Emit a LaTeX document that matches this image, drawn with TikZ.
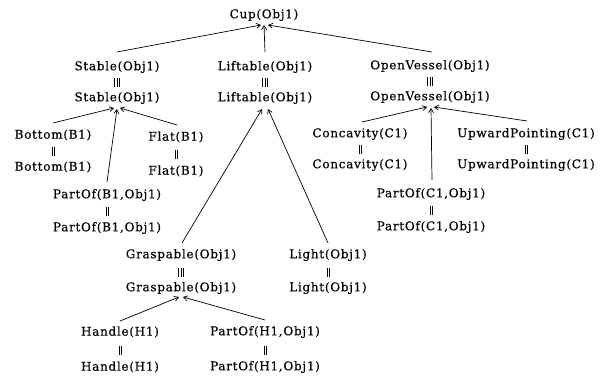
\documentclass[tikz,border=0pt]{standalone}
\usepackage{fontspec}
\setmainfont{DejaVu Serif}[LetterSpace=6,FakeBold=0.4]
\usetikzlibrary{arrows.meta}
\newcommand\eqtwo{\rule{0.8pt}{9pt}\hspace{1.4pt}\rule{0.8pt}{9pt}}
\newcommand\eqthree{\rule{0.8pt}{9pt}\hspace{1.4pt}\rule{0.8pt}{9pt}\hspace{1.4pt}\rule{0.8pt}{9pt}}
\begin{document}
\begin{tikzpicture}[x=1pt,y=-1pt,
  lbl/.style={font=\fontsize{12}{14}\selectfont, inner sep=1pt},
  eqm/.style={inner sep=0pt},
  edge/.style={line width=0.7pt, -{Straight Barb[length=4pt,width=5pt]}}]
\useasboundingbox[fill=white] (0,0) rectangle (615,375);
% level 0
\node[lbl] (cup) at (264,15) {Cup(Obj1)};
% level 1
\node[lbl] (st1) at (117,67) {Stable(Obj1)};
\node[eqm] (st2) at (117,82) {\eqthree};
\node[lbl] (st3) at (117,98) {Stable(Obj1)};
\node[lbl] (lf1) at (265,67) {Liftable(Obj1)};
\node[eqm] (lf2) at (265,82) {\eqthree};
\node[lbl] (lf3) at (265,98) {Liftable(Obj1)};
\node[lbl] (ov1) at (430,66) {OpenVessel(Obj1)};
\node[eqm] (ov2) at (430,81) {\eqthree};
\node[lbl] (ov3) at (430,97) {OpenVessel(Obj1)};
% stable children
\node[lbl] (bt1) at (53,135) {Bottom(B1)};
\node[eqm] (bt2) at (53,151) {\eqtwo};
\node[lbl] (bt3) at (53,167) {Bottom(B1)};
\node[lbl] (fl1) at (176,137) {Flat(B1)};
\node[eqm] (fl2) at (176,154) {\eqtwo};
\node[lbl] (fl3) at (176,171) {Flat(B1)};
\node[lbl] (pb1) at (107,195) {PartOf(B1,Obj1)};
\node[eqm] (pb2) at (107,211) {\eqtwo};
\node[lbl] (pb3) at (107,228) {PartOf(B1,Obj1)};
% openvessel children
\node[lbl] (cc1) at (360,134) {Concavity(C1)};
\node[eqm] (cc2) at (360,149) {\eqtwo};
\node[lbl] (cc3) at (360,165) {Concavity(C1)};
\node[lbl] (up1) at (526,134) {UpwardPointing(C1)};
\node[eqm] (up2) at (526,149) {\eqtwo};
\node[lbl] (up3) at (526,165) {UpwardPointing(C1)};
\node[lbl] (pc1) at (431,194) {PartOf(C1,Obj1)};
\node[eqm] (pc2) at (431,210) {\eqtwo};
\node[lbl] (pc3) at (431,227) {PartOf(C1,Obj1)};
% liftable children
\node[lbl] (gr1) at (181,255) {Graspable(Obj1)};
\node[eqm] (gr2) at (181,272) {\eqthree};
\node[lbl] (gr3) at (181,288) {Graspable(Obj1)};
\node[lbl] (li1) at (328,255) {Light(Obj1)};
\node[eqm] (li2) at (328,272) {\eqtwo};
\node[lbl] (li3) at (328,288) {Light(Obj1)};
% graspable children
\node[lbl] (ha1) at (120,332) {Handle(H1)};
\node[eqm] (ha2) at (120,350) {\eqtwo};
\node[lbl] (ha3) at (120,367) {Handle(H1)};
\node[lbl] (ph1) at (265,332) {PartOf(H1,Obj1)};
\node[eqm] (ph2) at (265,350) {\eqtwo};
\node[lbl] (ph3) at (265,367) {PartOf(H1,Obj1)};
% edges
\draw[edge] ([shift={(0,-15)}]st1.center) -- ([shift={(-3,10)}]cup.center);
\draw[edge] ([shift={(0,-15)}]lf1.center) -- ([shift={(0,10)}]cup.center);
\draw[edge] ([shift={(2,-14)}]ov1.center) -- ([shift={(4,10)}]cup.center);
\draw[edge] ([shift={(0,-12)}]bt1.center) -- ([shift={(-3,10)}]st3.center);
\draw[edge] ([shift={(0,-13)}]pb1.center) -- ([shift={(0,11)}]st3.center);
\draw[edge] ([shift={(1,-12)}]fl1.center) -- ([shift={(3,10)}]st3.center);
\draw[edge] ([shift={(1,-12)}]gr1.center) -- ([shift={(-3,11)}]lf3.center);
\draw[edge] ([shift={(0,-12)}]li1.center) -- ([shift={(3,11)}]lf3.center);
\draw[edge] ([shift={(2,-12)}]cc1.center) -- ([shift={(-3,10)}]ov3.center);
\draw[edge] ([shift={(1,-14)}]pc1.center) -- ([shift={(1,11)}]ov3.center);
\draw[edge] ([shift={(1,-13)}]up1.center) -- ([shift={(4,10)}]ov3.center);
\draw[edge] ([shift={(0,-11)}]ha1.center) -- ([shift={(-2,9)}]gr3.center);
\draw[edge] ([shift={(0,-12)}]ph1.center) -- ([shift={(2,9)}]gr3.center);
\end{tikzpicture}
\end{document}
